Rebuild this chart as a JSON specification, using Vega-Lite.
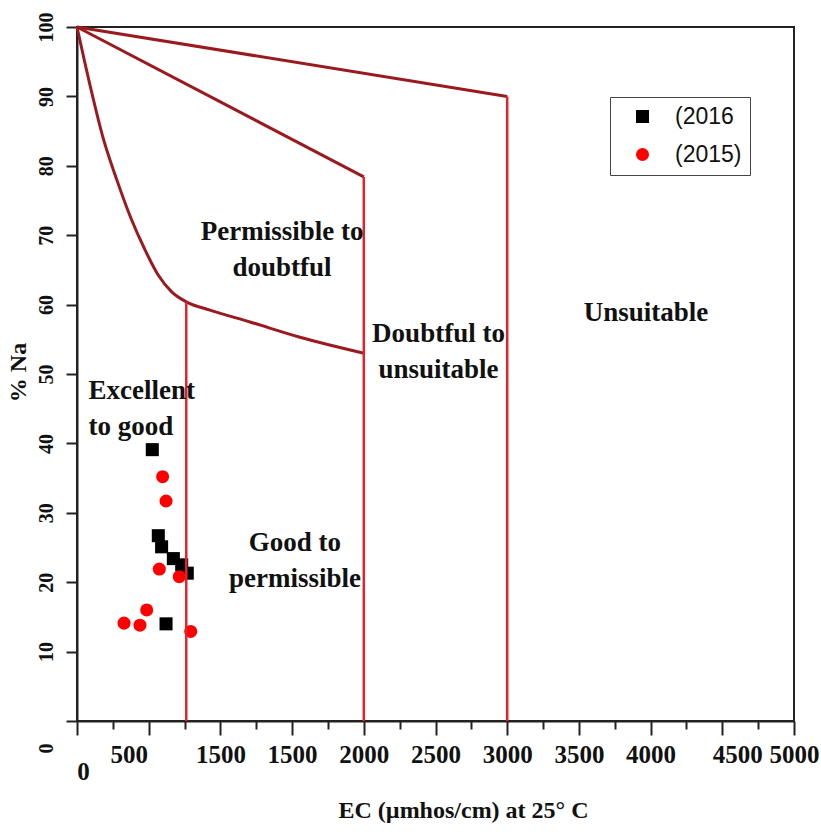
{
  "$schema": "https://vega.github.io/schema/vega-lite/v6.json",
  "width": 717,
  "height": 694,
  "autosize": {"type": "none"},
  "padding": {"left": 77, "top": 27, "right": 27, "bottom": 113},
  "background": "white",
  "config": {"view": {"stroke": "#222", "strokeWidth": 2}},
  "datasets": {
    "points": [
      {"x": 525, "y": 39.1, "year": "(2016"},
      {"x": 567, "y": 26.7, "year": "(2016"},
      {"x": 590, "y": 25.1, "year": "(2016"},
      {"x": 672, "y": 23.4, "year": "(2016"},
      {"x": 730, "y": 22.5, "year": "(2016"},
      {"x": 769, "y": 21.3, "year": "(2016"},
      {"x": 621, "y": 14.0, "year": "(2016"},
      {"x": 597, "y": 35.2, "year": "(2015)"},
      {"x": 621, "y": 31.7, "year": "(2015)"},
      {"x": 574, "y": 21.9, "year": "(2015)"},
      {"x": 713, "y": 20.8, "year": "(2015)"},
      {"x": 486, "y": 16.0, "year": "(2015)"},
      {"x": 439, "y": 13.8, "year": "(2015)"},
      {"x": 328, "y": 14.1, "year": "(2015)"},
      {"x": 793, "y": 12.9, "year": "(2015)"}
    ],
    "curves": [
      {"g": "a", "o": 1, "x": 0, "y": 100},
      {"g": "a", "o": 2, "x": 3000, "y": 90},
      {"g": "b", "o": 1, "x": 0, "y": 100},
      {"g": "b", "o": 2, "x": 2000, "y": 78.4},
      {"g": "c", "o": 1, "x": 0, "y": 100},
      {"g": "c", "o": 2, "x": 91, "y": 91.6},
      {"g": "c", "o": 3, "x": 181, "y": 84.1},
      {"g": "c", "o": 4, "x": 279, "y": 77.9},
      {"g": "c", "o": 5, "x": 377, "y": 72.4},
      {"g": "c", "o": 6, "x": 474, "y": 67.9},
      {"g": "c", "o": 7, "x": 565, "y": 64.3},
      {"g": "c", "o": 8, "x": 662, "y": 61.8},
      {"g": "c", "o": 9, "x": 762, "y": 60.4},
      {"g": "c", "o": 10, "x": 927, "y": 59.2},
      {"g": "c", "o": 11, "x": 1206, "y": 57.5},
      {"g": "c", "o": 12, "x": 1555, "y": 55.3},
      {"g": "c", "o": 13, "x": 2000, "y": 53.0}
    ],
    "verticals": [
      {"g": "v1", "o": 1, "x": 762, "y": 0},
      {"g": "v1", "o": 2, "x": 762, "y": 60.4},
      {"g": "v2", "o": 1, "x": 2000, "y": 0},
      {"g": "v2", "o": 2, "x": 2000, "y": 78.4},
      {"g": "v3", "o": 1, "x": 3000, "y": 0},
      {"g": "v3", "o": 2, "x": 3000, "y": 90}
    ],
    "labelsCenter": [
      {"x": 1430, "y": 70.4, "t": "Permissible to\ndoubtful"},
      {"x": 1520, "y": 25.7, "t": "Good to\npermissible"},
      {"x": 2521, "y": 55.8, "t": "Doubtful to\nunsuitable"},
      {"x": 3968, "y": 58.8, "t": "Unsuitable"}
    ],
    "labelsLeft": [
      {"x": 80, "y": 47.6, "t": "Excellent\nto good"}
    ]
  },
  "encoding": {
    "x": {
      "field": "x",
      "type": "quantitative",
      "scale": {"domain": [0, 5000], "nice": false, "zero": false},
      "axis": {
        "values": [0, 250, 500, 750, 1000, 1250, 1500, 1750, 2000, 2250, 2500, 2750, 3000, 3250, 3500, 3750, 4000, 4250, 4500, 4750, 5000],
        "format": "d",
        "labelExpr": "datum.value == 1000 ? '1500' : (datum.value % 500 == 0 ? datum.label : '')",
        "labelFont": "Liberation Serif",
        "labelFontWeight": "bold",
        "labelFontSize": 25,
        "labelColor": "#111",
        "labelOverlap": false,
        "labelFlush": false,
        "labelBound": false,
        "labelPadding": {"condition": {"test": "datum.value == 0", "value": 24}, "value": 7},
        "labelOffset": {"condition": [
          {"test": "datum.value == 0", "value": 6},
          {"test": "datum.value == 500", "value": -20},
          {"test": "datum.value == 4500", "value": 15}
        ], "value": 0},
        "tickSize": {"condition": {"test": "datum.value % 500 == 0", "value": 14}, "value": 8},
        "tickColor": "#222",
        "tickWidth": 2,
        "domainColor": "#222",
        "domainWidth": 2,
        "grid": false,
        "title": "EC (µmhos/cm) at 25° C",
        "titleFont": "Liberation Serif",
        "titleFontWeight": "bold",
        "titleFontSize": 24,
        "titleColor": "#111",
        "titleX": 386,
        "titleY": 89,
        "titleAlign": "center",
        "titleBaseline": "middle"
      }
    },
    "y": {
      "field": "y",
      "type": "quantitative",
      "scale": {"domain": [0, 100], "nice": false},
      "axis": {
        "values": [0, 10, 20, 30, 40, 50, 60, 70, 80, 90, 100],
        "labelAngle": 270,
        "labelAlign": "center",
        "labelBaseline": "bottom",
        "labelFont": "Liberation Serif",
        "labelFontWeight": "bold",
        "labelFontSize": 20,
        "labelColor": "#111",
        "labelPadding": 10,
        "labelOverlap": false,
        "labelFlush": false,
        "labelBound": false,
        "labelOffset": {"condition": {"test": "datum.value == 0", "value": 27}, "value": 0},
        "tickSize": 11,
        "tickColor": "#222",
        "tickWidth": 2,
        "domainColor": "#222",
        "domainWidth": 2,
        "grid": false,
        "title": "% Na",
        "titleFont": "Liberation Serif",
        "titleFontWeight": "bold",
        "titleFontSize": 24,
        "titleColor": "#111",
        "titleAngle": 270,
        "titleX": -59,
        "titleY": 345,
        "titleAlign": "center",
        "titleBaseline": "middle"
      }
    }
  },
  "layer": [
    {
      "data": {"name": "points"},
      "mark": {"type": "point", "filled": true, "opacity": 1, "size": 170},
      "encoding": {
        "color": {
          "field": "year",
          "type": "nominal",
          "scale": {"domain": ["(2016", "(2015)"], "range": ["#000000", "#ff0000"]},
          "legend": {
            "orient": "none",
            "legendX": 533,
            "legendY": 70,
            "title": null,
            "strokeColor": "#444",
            "padding": 8,
            "labelFont": "Liberation Sans",
            "labelFontSize": 23,
            "labelColor": "#111",
            "symbolSize": 170,
            "symbolStrokeWidth": 0,
            "rowPadding": 14,
            "labelOffset": 21,
            "symbolOffset": 13
          }
        },
        "shape": {
          "field": "year",
          "type": "nominal",
          "scale": {"domain": ["(2016", "(2015)"], "range": ["square", "circle"]}
        }
      }
    },
    {
      "data": {"name": "curves"},
      "mark": {"type": "line", "color": "#9b1a1f", "strokeWidth": 3, "interpolate": "monotone"},
      "encoding": {
        "detail": {"field": "g", "type": "nominal"},
        "order": {"field": "o", "type": "quantitative"}
      }
    },
    {
      "data": {"name": "verticals"},
      "mark": {"type": "line", "color": "#e3232b", "strokeWidth": 2.5},
      "encoding": {
        "detail": {"field": "g", "type": "nominal"},
        "order": {"field": "o", "type": "quantitative"}
      }
    },
    {
      "data": {"name": "labelsCenter"},
      "mark": {"type": "text", "font": "Liberation Serif", "fontWeight": "bold", "fontSize": 27, "align": "center", "baseline": "middle", "lineBreak": "\n", "lineHeight": 36, "color": "#111"},
      "encoding": {"text": {"field": "t", "type": "nominal"}}
    },
    {
      "data": {"name": "labelsLeft"},
      "mark": {"type": "text", "font": "Liberation Serif", "fontWeight": "bold", "fontSize": 27, "align": "left", "baseline": "middle", "lineBreak": "\n", "lineHeight": 36, "color": "#111"},
      "encoding": {"text": {"field": "t", "type": "nominal"}}
    }
  ]
}
